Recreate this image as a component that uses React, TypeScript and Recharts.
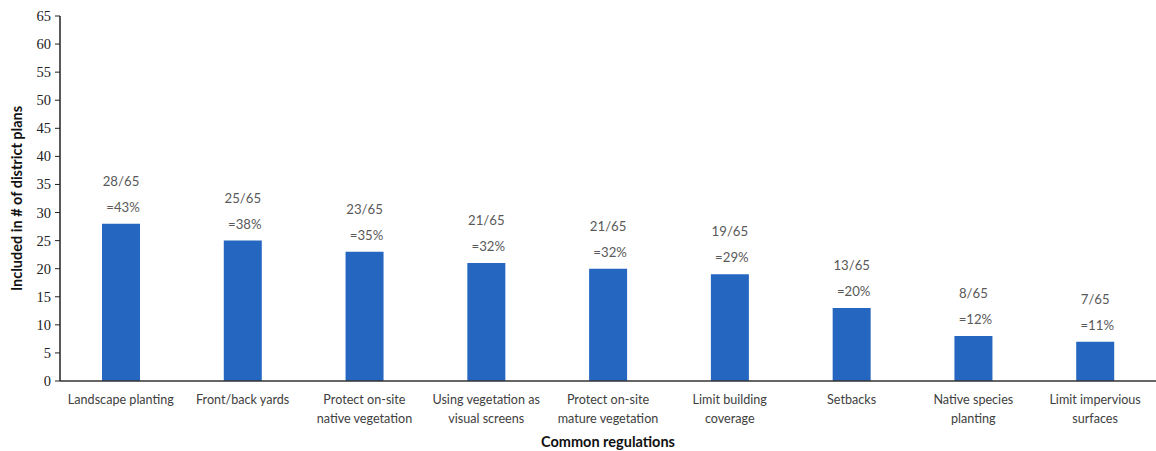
import { BarChart, Bar, XAxis, YAxis, LabelList, Label } from 'recharts';

const categories = [
  'Landscape planting',
  'Front/back yards',
  'Protect on-site\nnative vegetation',
  'Using vegetation as\nvisual screens',
  'Protect on-site\nmature vegetation',
  'Limit building\ncoverage',
  'Setbacks',
  'Native species\nplanting',
  'Limit impervious\nsurfaces',
];
const barValues = [28, 25, 23, 21, 20, 19, 13, 8, 7];
const counts = [28, 25, 23, 21, 21, 19, 13, 8, 7];
const percents = [43, 38, 35, 32, 32, 29, 20, 12, 11];
const total = 65;
const yTicks = [0, 5, 10, 15, 20, 25, 30, 35, 40, 45, 50, 55, 60, 65];

const chartData = categories.map((name, i) => ({
  name,
  value: barValues[i],
  count: counts[i],
  pct: percents[i],
}));

const SANS = 'Lato, "Open Sans", sans-serif';
const SERIF = '"Times New Roman", "Liberation Serif", serif';

// multi-line category labels under the axis
const CategoryTick = ({ x, y, payload }: any) => {
  const lines = String(payload.value).split('\n');
  return (
    <text x={x} y={y + 5} textAnchor="middle" fill="#404040" fontSize={12.6} fontFamily={SANS}>
      {lines.map((line, i) => (
        <tspan key={i} x={x} dy={i === 0 ? 10 : 19}>
          {line}
        </tspan>
      ))}
    </text>
  );
};

// serif numbers on the value axis
const ValueTick = ({ x, y, payload }: any) => (
  <g>
    <text
      x={x - 2}
      y={y + 5}
      textAnchor="end"
      fill="#222"
      fontSize={14.5}
      fontFamily={SERIF}
      style={{ fontFamily: SERIF }}
    >
      {payload.value}
    </text>
  </g>
);

const App = () => {
  return (
    <div style={{ position: 'absolute', left: 0, top: 0, background: '#fff' }}>
      <BarChart
        width={1156}
        height={451}
        data={chartData}
        margin={{ top: 16, right: 0, bottom: 0, left: 0 }}
      >
        <XAxis
          dataKey="name"
          interval={0}
          tickLine={false}
          axisLine={{ stroke: '#333', strokeWidth: 1.5 }}
          tick={<CategoryTick />}
          height={70}
        >
          <Label
            value="Common regulations"
            position="insideBottom"
            offset={4}
            style={{ fontFamily: SANS, fontWeight: 700, fontSize: 14.5, fill: '#111' }}
          />
        </XAxis>
        <YAxis
          domain={[0, 65]}
          ticks={yTicks}
          interval={0}
          width={60}
          tickSize={5}
          tickLine={{ stroke: '#222' }}
          axisLine={{ stroke: '#222', strokeWidth: 1.5 }}
          tick={ValueTick}
        >
          <Label
            value="Included in # of district plans"
            angle={-90}
            position="insideLeft"
            offset={17}
            style={{ fontFamily: SANS, fontWeight: 700, fontSize: 14.5, fill: '#111', textAnchor: 'middle' }}
          />
        </YAxis>
        <Bar dataKey="value" fill="#2566c0" barSize={38} isAnimationActive={false}>
          <LabelList
            dataKey="count"
            content={({ x, y, width, index }: any) => {
              const cx = x + width / 2;
              const d = chartData[index];
              return (
                <text textAnchor="middle" fill="#595959" fontSize={13.2} fontFamily={SANS}>
                  <tspan x={cx} y={y - 38}>{`${d.count}/${total}`}</tspan>
                  <tspan x={cx + 2} y={y - 12}>{`=${d.pct}%`}</tspan>
                </text>
              );
            }}
          />
        </Bar>
      </BarChart>
    </div>
  );
};

export default App;
